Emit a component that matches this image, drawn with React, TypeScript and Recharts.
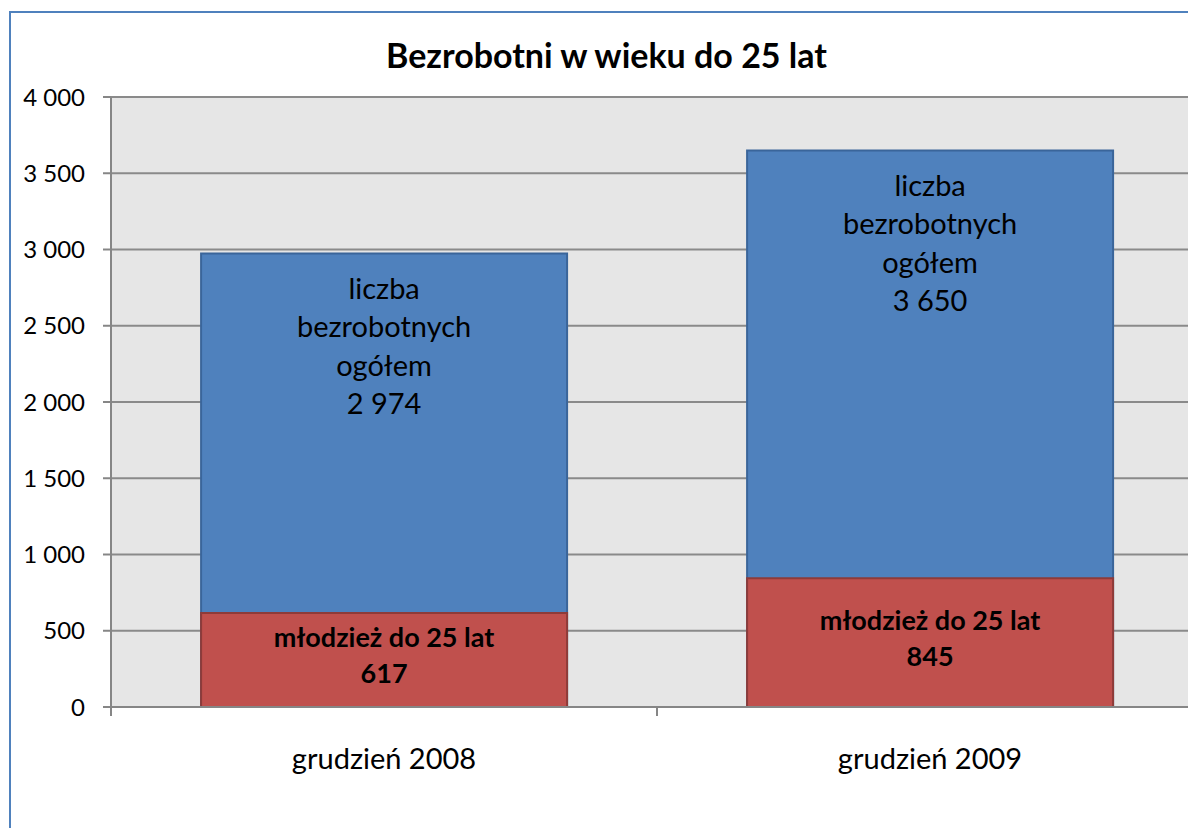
import React from 'react';
import { BarChart, Bar, XAxis, YAxis, CartesianGrid, LabelList } from 'recharts';

const categories = ['grudzień 2008', 'grudzień 2009'];
const ogolem = [2974, 3650];
const mlodziez = [617, 845];
const yTicks = [0, 500, 1000, 1500, 2000, 2500, 3000, 3500, 4000];

const data = categories.map((name, i) => ({ name, ogolem: ogolem[i], mlodziez: mlodziez[i] }));

const FONT = 'Lato, "Open Sans", sans-serif';
const fmt = (v: number) => String(v).replace(/\B(?=(\d{3})+(?!\d))/g, ' ');

const TotalLabel = (props: any) => {
  const { x, y, width, value } = props;
  const cx = x + width / 2;
  const lines = ['liczba', 'bezrobotnych', 'ogółem', fmt(value)];
  return (
    <g>
      {lines.map((t, i) => (
        <text key={i} x={cx} y={y + 34 + i * 38.5} textAnchor="middle" dominantBaseline="central"
          fontFamily={FONT} fontSize={29} fill="#000">{t}</text>
      ))}
    </g>
  );
};

const YouthLabel = (props: any) => {
  const { x, y, width, height, value } = props;
  const cx = x + width / 2;
  const mid = y + height / 2 - 5.5;
  const lines = ['młodzież do 25 lat', fmt(value)];
  return (
    <g>
      {lines.map((t, i) => (
        <text key={i} x={cx} y={mid - 18 + i * 36} textAnchor="middle" dominantBaseline="central"
          fontFamily={FONT} fontSize={27} fontWeight="bold" fill="#000">{t}</text>
      ))}
    </g>
  );
};

const CatTick = (props: any) => {
  const { x, y, payload } = props;
  const half = 273;
  return (
    <g>
      <line x1={x - half} y1={y - 8} x2={x - half} y2={y + 1} stroke="#868686" strokeWidth={2} />
      <line x1={x + half} y1={y - 8} x2={x + half} y2={y + 1} stroke="#868686" strokeWidth={2} />
      <text x={x} y={y + 42} textAnchor="middle" dominantBaseline="central" fontFamily={FONT}
        fontSize={29} fill="#000">{payload.value}</text>
    </g>
  );
};

export default function App() {
  return (
    <div style={{ position: 'fixed', left: 0, top: 0, width: 1188, height: 828, overflow: 'hidden', background: '#fff' }}>
      <div style={{ position: 'absolute', left: 9, top: 11, width: 1240, height: 900, border: '2px solid #4f81bd' }}>
        <div style={{ position: 'absolute', left: 0, top: 25, width: 1191, textAlign: 'center', fontFamily: FONT,
          fontWeight: 'bold', fontSize: 34, lineHeight: '34px', color: '#000' }}>
          Bezrobotni w wieku do 25 lat
        </div>
        <BarChart width={1230} height={900} data={data} margin={{ top: 84, right: 38, bottom: 126, left: 0 }}
          barCategoryGap="16.5%">
          <CartesianGrid vertical={false} stroke="#8a8a8a" strokeWidth={2} fill="#e6e6e6" fillOpacity={1} />
          <XAxis xAxisId="a" dataKey="name" axisLine={{ stroke: '#868686', strokeWidth: 2 }} tickLine={false}
            tick={<CatTick />} height={80} interval={0} />
          <XAxis xAxisId="b" dataKey="name" hide />
          <YAxis width={100} domain={[0, 4000]} ticks={yTicks} interval={0} tickFormatter={fmt}
            axisLine={{ stroke: '#868686', strokeWidth: 2 }} tickLine={{ stroke: '#868686', strokeWidth: 2 }}
            tickSize={8} tickMargin={18} tick={{ fontFamily: FONT, fontSize: 24, fill: '#000' }} />
          <Bar xAxisId="a" dataKey="ogolem" fill="#4f81bd" stroke="#3a659a" strokeWidth={2} isAnimationActive={false}>
            <LabelList dataKey="ogolem" content={<TotalLabel />} />
          </Bar>
          <Bar xAxisId="b" dataKey="mlodziez" fill="#c0504d" stroke="#8e3b39" strokeWidth={2} isAnimationActive={false}>
            <LabelList dataKey="mlodziez" content={<YouthLabel />} />
          </Bar>
        </BarChart>
      </div>
    </div>
  );
}
